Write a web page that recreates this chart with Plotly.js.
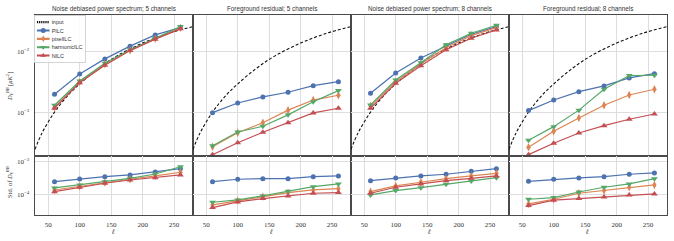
<!DOCTYPE html>
<html><head><meta charset="utf-8">
<script src="https://cdn.plot.ly/plotly-3.0.1.min.js"></script>
<style>html,body{margin:0;padding:0;background:#fff}#chart{width:674px;height:241px}</style>
</head><body><div id="chart"></div>
<script>
// ---- data ----
const ell = [60, 100, 140, 180, 220, 260];
const inputEll = [29, 40, 60, 80, 100, 130, 160, 200, 240, 280];
const inputDl = [2.5e-4, 4.6e-4, 1.02e-3, 1.85e-3, 2.95e-3, 5.35e-3, 8.6e-3, 1.38e-2, 1.98e-2, 2.57e-2];
const methods = ['PILC', 'pixelILC', 'harmonicILC', 'NILC'];
const panelTitles = ['Noise debiased power spectrum; 5 channels', 'Foreground residual; 5 channels',
                     'Noise debiased power spectrum; 8 channels', 'Foreground residual; 8 channels'];
const xTickVals = [50, 100, 150, 200, 250];

// top row: D_ell^BB
const nd5_PILC = [2.0e-3, 4.3e-3, 7.6e-3, 1.23e-2, 1.88e-2, 2.47e-2];
const nd5_pixelILC = [1.22e-3, 3.2e-3, 6.2e-3, 1.05e-2, 1.62e-2, 2.45e-2];
const nd5_harmonicILC = [1.32e-3, 3.3e-3, 6.45e-3, 1.07e-2, 1.66e-2, 2.57e-2];
const nd5_NILC = [1.18e-3, 3.1e-3, 5.98e-3, 1.04e-2, 1.6e-2, 2.36e-2];

const fg5_PILC = [1.0e-3, 1.44e-3, 1.81e-3, 2.16e-3, 2.77e-3, 3.22e-3];
const fg5_pixelILC = [2.77e-4, 4.7e-4, 6.85e-4, 1.1e-3, 1.61e-3, 1.93e-3];
const fg5_harmonicILC = [2.88e-4, 4.83e-4, 5.98e-4, 9.2e-4, 1.51e-3, 2.3e-3];
const fg5_NILC = [2.05e-4, 3.22e-4, 4.77e-4, 6.85e-4, 9.9e-4, 1.18e-3];

const nd8_PILC = [2.08e-3, 4.48e-3, 7.88e-3, 1.25e-2, 1.93e-2, 2.57e-2];
const nd8_pixelILC = [1.29e-3, 3.22e-3, 6.3e-3, 1.16e-2, 1.83e-2, 2.47e-2];
const nd8_harmonicILC = [1.34e-3, 3.43e-3, 6.6e-3, 1.29e-2, 2.0e-2, 2.71e-2];
const nd8_NILC = [1.18e-3, 3.03e-3, 5.89e-3, 1.07e-2, 1.66e-2, 2.27e-2];

const fg8_PILC = [1.08e-3, 1.61e-3, 2.21e-3, 2.74e-3, 3.71e-3, 4.36e-3];
const fg8_pixelILC = [2.71e-4, 4.95e-4, 8.2e-4, 1.32e-3, 1.95e-3, 2.42e-3];
const fg8_harmonicILC = [3.53e-4, 5.9e-4, 1.1e-3, 2.42e-3, 4.05e-3, 4.1e-3];
const fg8_NILC = [2.05e-4, 3.15e-4, 4.65e-4, 6.12e-4, 7.8e-4, 9.5e-4];

// bottom row: Std of D_ell^BB
const sd_nd5_PILC = [2.44e-4, 2.96e-4, 3.48e-4, 3.92e-4, 4.84e-4, 6.1e-4];
const sd_nd5_pixelILC = [1.36e-4, 1.77e-4, 2.28e-4, 2.9e-4, 3.66e-4, 4.74e-4];
const sd_nd5_harmonicILC = [1.57e-4, 1.94e-4, 2.44e-4, 3.1e-4, 4.2e-4, 7.0e-4];
const sd_nd5_NILC = [1.21e-4, 1.65e-4, 2.18e-4, 2.75e-4, 3.24e-4, 3.92e-4];

const sd_fg5_PILC = [2.44e-4, 2.9e-4, 3.02e-4, 3.02e-4, 3.48e-4, 3.66e-4];
const sd_fg5_pixelILC = [4.74e-5, 6.4e-5, 8.5e-5, 1.13e-4, 1.36e-4, 1.49e-4];
const sd_fg5_harmonicILC = [5.73e-5, 6.75e-5, 8.94e-5, 1.24e-4, 1.72e-4, 2.08e-4];
const sd_fg5_NILC = [3.92e-5, 5.86e-5, 7.4e-5, 8.94e-5, 1.08e-4, 1.13e-4];

const sd_nd8_PILC = [2.62e-4, 3.18e-4, 3.66e-4, 4.12e-4, 5.08e-4, 6.1e-4];
const sd_nd8_pixelILC = [1.21e-4, 1.81e-4, 2.34e-4, 3.02e-4, 3.66e-4, 4.41e-4];
const sd_nd8_harmonicILC = [9.6e-5, 1.3e-4, 1.6e-4, 2.04e-4, 2.57e-4, 3.24e-4];
const sd_nd8_NILC = [1.08e-4, 1.65e-4, 2.08e-4, 2.62e-4, 3.1e-4, 3.66e-4];

const sd_fg8_PILC = [2.51e-4, 2.9e-4, 3.18e-4, 3.48e-4, 4.12e-4, 4.51e-4];
const sd_fg8_pixelILC = [5.08e-5, 7.08e-5, 1.08e-4, 1.3e-4, 1.65e-4, 1.94e-4];
const sd_fg8_harmonicILC = [7.08e-5, 7.93e-5, 1.18e-4, 1.65e-4, 2.08e-4, 3.02e-4];
const sd_fg8_NILC = [4.51e-5, 6.6e-5, 7.4e-5, 8.3e-5, 9.6e-5, 1.03e-4];

const topSeries = [
  [nd5_PILC, nd5_pixelILC, nd5_harmonicILC, nd5_NILC],
  [fg5_PILC, fg5_pixelILC, fg5_harmonicILC, fg5_NILC],
  [nd8_PILC, nd8_pixelILC, nd8_harmonicILC, nd8_NILC],
  [fg8_PILC, fg8_pixelILC, fg8_harmonicILC, fg8_NILC]
];
const botSeries = [
  [sd_nd5_PILC, sd_nd5_pixelILC, sd_nd5_harmonicILC, sd_nd5_NILC],
  [sd_fg5_PILC, sd_fg5_pixelILC, sd_fg5_harmonicILC, sd_fg5_NILC],
  [sd_nd8_PILC, sd_nd8_pixelILC, sd_nd8_harmonicILC, sd_nd8_NILC],
  [sd_fg8_PILC, sd_fg8_pixelILC, sd_fg8_harmonicILC, sd_fg8_NILC]
];

// ---- styles ----
const colors = ['#4C72B0', '#DD8452', '#55A868', '#C44E52'];
const symbols = ['circle', 'diamond-tall', 'triangle-down', 'triangle-up'];
const msize = [5, 6, 6, 6];
const W = 674, H = 241;
const colPx = [[35, 193], [193, 351], [351, 509], [509, 667]];
const topPx = [15, 156], botPx = [156, 215];
const px2x = p => p / W, px2y = p => 1 - p / H;
const LEG_SCALE = 0.42;

const data = [];
for (let c = 0; c < 4; c++) {
  const tx = 'x' + (c + 1), ty = 'y' + (c + 1);
  const bx = 'x' + (c + 5), by = 'y' + (c + 5);
  data.push({x: inputEll, y: inputDl, xaxis: tx, yaxis: ty, type: 'scatter', mode: 'lines',
    name: 'input', legendgroup: 'input', showlegend: c === 0,
    line: {color: '#111', width: 1.1, dash: '3px,2px', shape: 'spline'}});
  for (let m = 0; m < 4; m++) {
    const common = {type: 'scatter', mode: 'lines+markers', name: methods[m], legendgroup: methods[m],
      line: {color: colors[m], width: 1.2},
      marker: {color: colors[m], symbol: symbols[m], size: msize[m]}};
    data.push(Object.assign({x: ell, y: topSeries[c][m], xaxis: tx, yaxis: ty, showlegend: c === 0}, common));
    data.push(Object.assign({x: ell, y: botSeries[c][m], xaxis: bx, yaxis: by, showlegend: false}, common));
  }
}

const axisLine = {showline: true, mirror: true, linecolor: '#4a4a4a', linewidth: 1.4,
  showgrid: true, gridcolor: '#dedede', gridwidth: 1, zeroline: false};
const tickFont = {family: 'Liberation Serif, DejaVu Serif, serif', size: 7, color: '#333'};

const layout = {
  width: W, height: H, margin: {l: 0, r: 0, t: 0, b: 0},
  paper_bgcolor: '#fff', plot_bgcolor: '#fff', showlegend: true,
  legend: {x: px2x(34), y: px2y(15), xanchor: 'left', yanchor: 'top',
    bgcolor: 'rgba(255,255,255,0.85)', bordercolor: '#cccccc', borderwidth: 2,
    font: {family: 'Liberation Sans, DejaVu Sans, sans-serif', size: 13, color: '#333'},
    tracegroupgap: 0, itemwidth: 30, itemsizing: 'constant'},
  annotations: [], font: tickFont
};

for (let c = 0; c < 4; c++) {
  const xd = [px2x(colPx[c][0]), px2x(colPx[c][1])];
  const xr = [29, 280];
  layout['xaxis' + (c + 1)] = Object.assign({}, axisLine, {domain: xd, anchor: 'y' + (c + 1), range: xr,
    tickvals: xTickVals, showticklabels: false, ticks: ''});
  layout['xaxis' + (c + 5)] = Object.assign({}, axisLine, {domain: xd, anchor: 'y' + (c + 5), range: xr,
    tickvals: xTickVals, showticklabels: true, ticks: 'outside', ticklen: 2, tickcolor: 'rgba(0,0,0,0)',
    tickfont: tickFont});
  layout['yaxis' + (c + 1)] = Object.assign({}, axisLine, {domain: [px2y(topPx[1]), px2y(topPx[0])],
    anchor: 'x' + (c + 1), type: 'log', range: [-3.71, -1.40],
    tickvals: [1e-3, 1e-2], ticktext: ['10<sup>−3</sup>', '10<sup>−2</sup>'],
    showticklabels: c === 0, ticks: c === 0 ? 'outside' : '', ticklen: 3, tickcolor: 'rgba(0,0,0,0)', tickfont: tickFont});
  layout['yaxis' + (c + 5)] = Object.assign({}, axisLine, {domain: [px2y(botPx[1]), px2y(botPx[0])],
    anchor: 'x' + (c + 5), type: 'log', range: [-4.633, -2.826],
    tickvals: [1e-4, 1e-3], ticktext: ['10<sup>−4</sup>', '10<sup>−3</sup>'],
    showticklabels: c === 0, ticks: c === 0 ? 'outside' : '', ticklen: 3, tickcolor: 'rgba(0,0,0,0)', tickfont: tickFont});

  const cx = px2x((colPx[c][0] + colPx[c][1]) / 2);
  layout.annotations.push({text: panelTitles[c], xref: 'paper', yref: 'paper', x: cx, y: px2y(9),
    xanchor: 'center', yanchor: 'middle', showarrow: false,
    font: {family: 'Liberation Sans, DejaVu Sans, sans-serif', size: 6.3, color: '#333'}});
  layout.annotations.push({text: '<i>ℓ</i>', xref: 'paper', yref: 'paper', x: cx - px2x(1), y: px2y(232),
    xanchor: 'center', yanchor: 'middle', showarrow: false,
    font: {family: 'Liberation Serif, DejaVu Serif, serif', size: 7, color: '#333'}});
}
layout.annotations.push({text: '<i>D</i><sub>ℓ</sub><sup><i>BB</i></sup> [<i>μK</i><sup>2</sup>]', xref: 'paper', yref: 'paper',
  x: px2x(9), y: px2y(87), textangle: -90, xanchor: 'center', yanchor: 'middle', showarrow: false,
  font: {family: 'Liberation Serif, DejaVu Serif, serif', size: 6.5, color: '#333'}});
layout.annotations.push({text: 'Std. of <i>D</i><sub>ℓ</sub><sup><i>BB</i></sup>', xref: 'paper', yref: 'paper',
  x: px2x(9), y: px2y(182), textangle: -90, xanchor: 'center', yanchor: 'middle', showarrow: false,
  font: {family: 'Liberation Serif, DejaVu Serif, serif', size: 6.5, color: '#333'}});

Plotly.newPlot('chart', data, layout, {staticPlot: true, displayModeBar: false}).then(gd => {
  const lg = gd.querySelector('g.legend');
  if (lg) {
    const t = lg.getAttribute('transform') || '';
    lg.setAttribute('transform', t + ' scale(' + LEG_SCALE + ')');
  }
});
</script>
</body></html>
